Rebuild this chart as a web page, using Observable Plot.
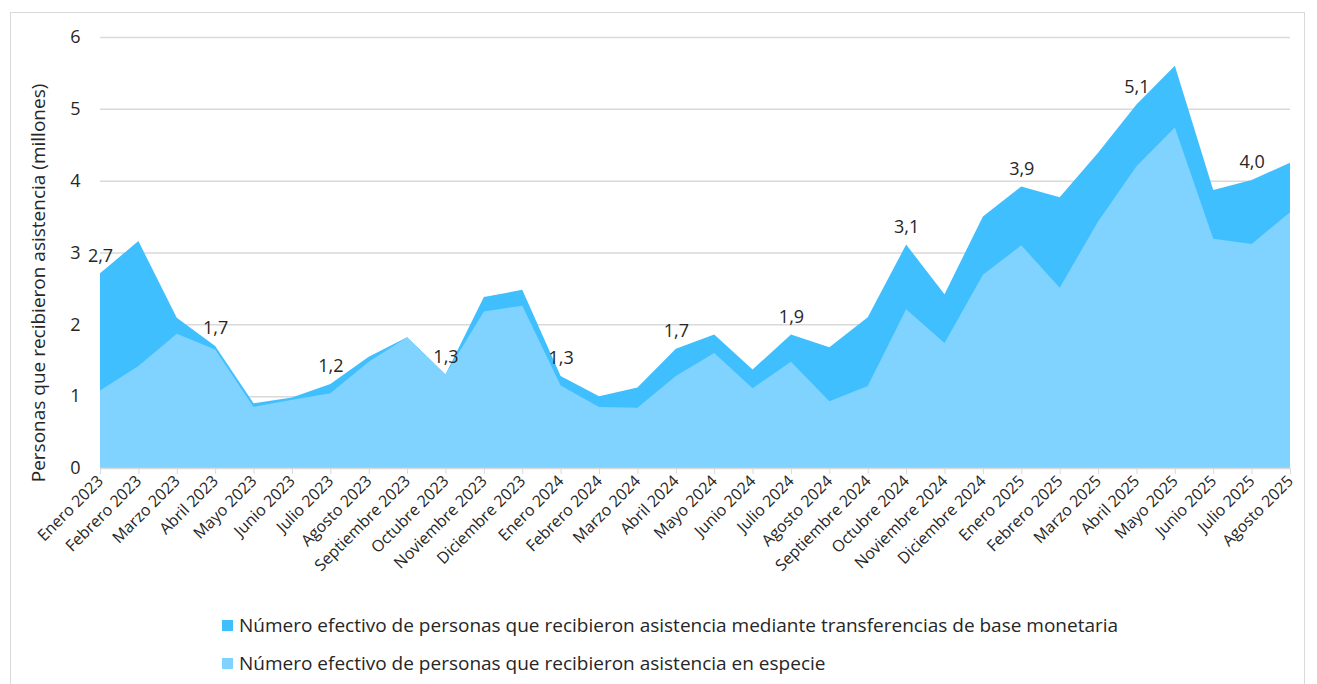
<!DOCTYPE html>
<html>
<head>
<meta charset="utf-8">
<script src="https://cdn.jsdelivr.net/npm/d3@7"></script>
<script src="https://cdn.jsdelivr.net/npm/@observablehq/plot@0.6"></script>
<style>
  html, body { margin: 0; padding: 0; background: #fff; }
  body { font-family: "Open Sans", sans-serif; width: 1317px; height: 684px; overflow: hidden; position: relative; }
  #frame { position: absolute; left: 10px; top: 12px; width: 1295px; height: 700px; border: 1px solid #d9d9d9; box-sizing: border-box; pointer-events: none; }
  #chart { position: absolute; left: 0; top: 0; }
  #legend { position: absolute; left: 222px; top: 611px; font-size: 19px; color: #262626; }
  .item { display: flex; align-items: center; height: 28px; margin-bottom: 10px; }
  .sw { width: 11px; height: 11px; margin-right: 6px; }
</style>
</head>
<body>
<div id="frame"></div>
<div id="chart"></div>
<div id="legend"></div>
<script>
const months = [
  "Enero 2023","Febrero 2023","Marzo 2023","Abril 2023","Mayo 2023","Junio 2023","Julio 2023","Agosto 2023",
  "Septiembre 2023","Octubre 2023","Noviembre 2023","Diciembre 2023",
  "Enero 2024","Febrero 2024","Marzo 2024","Abril 2024","Mayo 2024","Junio 2024","Julio 2024","Agosto 2024",
  "Septiembre 2024","Octubre 2024","Noviembre 2024","Diciembre 2024",
  "Enero 2025","Febrero 2025","Marzo 2025","Abril 2025","Mayo 2025","Junio 2025","Julio 2025","Agosto 2025"
];
// Total (especie + transferencias de base monetaria), millones
const total = [2.71,3.16,2.09,1.70,0.90,0.98,1.17,1.55,1.82,1.30,2.38,2.48,
               1.28,1.00,1.12,1.66,1.86,1.37,1.86,1.68,2.10,3.11,2.42,3.50,
               3.92,3.77,4.39,5.06,5.60,3.87,4.01,4.25];
// En especie, millones
const especie = [1.08,1.42,1.87,1.65,0.85,0.95,1.04,1.48,1.82,1.30,2.18,2.26,
                 1.15,0.85,0.84,1.28,1.60,1.11,1.48,0.93,1.14,2.21,1.74,2.69,
                 3.10,2.51,3.43,4.20,4.74,3.19,3.12,3.56];
const labeledMonths = ["Enero 2023","Abril 2023","Julio 2023","Octubre 2023","Enero 2024","Abril 2024",
                       "Julio 2024","Octubre 2024","Enero 2025","Abril 2025","Julio 2025"];
const yTicks = [0,1,2,3,4,5,6];
const seriesNames = [
  "Número efectivo de personas que recibieron asistencia mediante transferencias de base monetaria",
  "Número efectivo de personas que recibieron asistencia en especie"
];
const colors = ["#40BFFF", "#80D2FF"];

const data = months.map((m, i) => ({i, month: m, total: total[i], especie: especie[i]}));
const labels = data.filter(d => labeledMonths.includes(d.month));
const fmt = v => v.toFixed(1).replace(".", ",");

const chart = Plot.plot({
  width: 1317,
  height: 600,
  marginTop: 37,
  marginBottom: 132,
  marginLeft: 100,
  marginRight: 27,
  style: {fontFamily: "Open Sans, sans-serif", color: "#404040", background: "transparent"},
  x: {domain: [0, months.length - 1]},
  y: {domain: [0, 6]},
  marks: [
    Plot.ruleY(yTicks.filter(t => t > 0), {stroke: "#d9d9d9", strokeWidth: 1.5}),
    Plot.areaY(data, {x: "i", y: "total", fill: colors[0]}),
    Plot.areaY(data, {x: "i", y: "especie", fill: colors[1]}),
    Plot.ruleY([0], {stroke: "#d9d9d9", strokeWidth: 1.5}),
    Plot.axisX({
      ticks: data.map(d => d.i),
      tickFormat: i => months[i],
      tickRotate: -45,
      tickSize: 6,
      tickPadding: 4,
      stroke: "#d9d9d9",
      fontSize: 16,
      fill: "#262626",
      label: null
    }),
    Plot.axisY({
      ticks: yTicks,
      tickFormat: d => String(d),
      tickSize: 0,
      tickPadding: 20,
      fontSize: 18,
      fill: "#262626",
      label: null
    }),
    Plot.text(["Personas que recibieron asistencia (millones)"], {
      frameAnchor: "left", dx: -62, dy: 30, rotate: -90, fontSize: 19, fill: "#262626", textAnchor: "middle"
    }),
    Plot.text(labels, {
      x: "i", y: "total", text: d => fmt(d.total), dy: -18, fontSize: 18, fill: "#262626"
    })
  ]
});
document.getElementById("chart").appendChild(chart);

const legend = document.getElementById("legend");
seriesNames.forEach((name, k) => {
  const item = document.createElement("div");
  item.className = "item";
  const sw = document.createElement("span");
  sw.className = "sw";
  sw.style.background = colors[k];
  const t = document.createElement("span");
  t.textContent = name;
  item.appendChild(sw); item.appendChild(t);
  legend.appendChild(item);
});
</script>
</body>
</html>
